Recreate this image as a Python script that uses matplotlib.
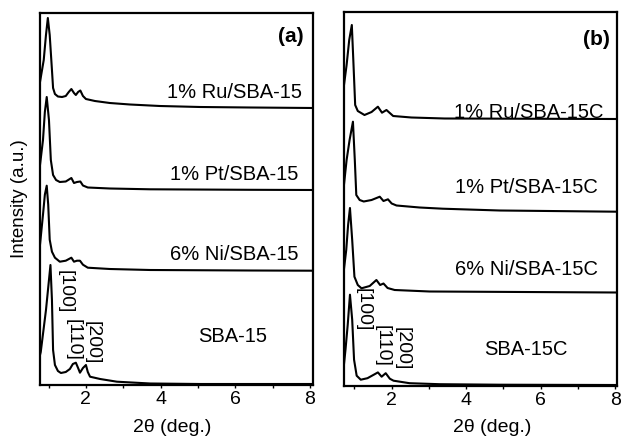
import matplotlib
matplotlib.use("Agg")
import matplotlib.pyplot as plt
from matplotlib.ticker import MultipleLocator, NullLocator

plt.rcParams['font.family'] = ['Liberation Sans', 'DejaVu Sans']

# ---------------- data (2theta in degrees, intensity in a.u.) ----------------
# Panel (a)
a_ru_x = [0.77, 0.87, 0.93, 0.98, 1.03, 1.09, 1.12, 1.17, 1.25, 1.36, 1.46, 1.54, 1.61, 1.68, 1.73,
          1.79, 1.85, 1.92, 2.00, 2.24, 2.64, 3.18, 3.98, 5.06, 6.40, 8.09]
a_ru_y = [26, 48, 73, 90, 73, 38, 20, 14, 11.5, 11, 12, 16, 19, 15, 13,
          16, 17.5, 12, 9, 7, 5, 3.5, 2, 1, 0.5, 0]

a_pt_x = [0.77, 0.85, 0.90, 0.95, 1.01, 1.06, 1.12, 1.20, 1.30, 1.46, 1.61, 1.68, 1.76, 1.85,
          1.92, 2.05, 2.64, 3.72, 6.40, 8.09]
a_pt_y = [25, 50, 78, 93, 70, 30, 15, 10, 8, 8.5, 12, 7, 8, 8.5,
          4.5, 2.5, 1.5, 0.7, 0.2, 0]

a_ni_x = [0.77, 0.85, 0.90, 0.95, 0.99, 1.03, 1.09, 1.17, 1.30, 1.46, 1.61, 1.68, 1.76, 1.84,
          1.92, 2.05, 2.64, 3.72, 6.40, 8.09]
a_ni_y = [26, 56, 76, 85, 66, 31, 19, 13, 9, 10, 13, 9, 10, 10,
          6, 3, 1.7, 0.7, 0.2, 0]

a_sba_x = [0.77, 0.79, 0.93, 1.05, 1.09, 1.12, 1.17, 1.25, 1.33, 1.46, 1.57, 1.65, 1.73, 1.79,
           1.84, 1.92, 2.00, 2.05, 2.11, 2.38, 2.83, 3.72, 5.06, 8.09]
a_sba_y = [30, 33, 75, 120, 85, 35, 20, 14, 12, 13, 16, 21, 22.3, 17,
           12.3, 17, 20, 13, 8.3, 6, 3.3, 1.5, 1, 1]

# Panel (b)
b_ru_x = [0.72, 0.79, 0.86, 0.93, 0.97, 1.02, 1.09, 1.27, 1.46, 1.63, 1.74, 1.86, 2.04, 2.53,
          3.42, 8.05]
b_ru_y = [34, 54, 79, 94, 59, 14, 8, 4, 7, 12.3, 6.3, 9, 3, 1.5,
          0.5, 0]

b_pt_x = [0.71, 0.79, 0.87, 0.96, 1.01, 1.05, 1.14, 1.25, 1.46, 1.68, 1.78, 1.90, 2.00, 2.13,
          2.75, 3.37, 4.90, 8.05]
b_pt_y = [23.7, 51.7, 71.7, 90, 51.7, 16.7, 11.7, 10.2, 11.7, 15, 10.7, 12.4, 8.2, 6.2,
          4.2, 3, 1.2, 0]

b_ni_x = [0.71, 0.78, 0.83, 0.88, 0.94, 1.00, 1.09, 1.19, 1.41, 1.59, 1.69, 1.78, 1.89, 2.08,
          3.02, 8.05]
b_ni_y = [20.5, 42.5, 67.5, 84.5, 52.5, 15.8, 7.5, 4.2, 6.5, 12.5, 7.5, 9, 4.5, 2.5,
          1, 0]

b_sba_x = [0.71, 0.76, 0.82, 0.88, 0.94, 0.99, 1.06, 1.17, 1.35, 1.52, 1.63, 1.73, 1.84, 1.95,
           2.05, 2.48, 3.29, 4.90, 8.05]
b_sba_y = [18, 36, 61, 91, 66, 26, 10, 6, 7.5, 11, 13.3, 9, 12.5, 7,
           5, 2.5, 1.5, 1, 0.7]

labels_a = ["1% Ru/SBA-15", "1% Pt/SBA-15", "6% Ni/SBA-15", "SBA-15"]
labels_b = ["1% Ru/SBA-15C", "1% Pt/SBA-15C", "6% Ni/SBA-15C", "SBA-15C"]
offsets_a = [277, 195, 114.3, 0]
offsets_b = [266.7, 174, 93.2, 0]
peak_labels = ["[100]", "[110]", "[200]"]
xticks = [2, 4, 6, 8]

# ---------------- figure ----------------
W, H = 622, 437
fig = plt.figure(figsize=(W / 100, H / 100), dpi=100)


def ax_rect(l, t, r, b):
    return [l / W, 1 - b / H, (r - l) / W, (b - t) / H]


def fpos(x, y):
    return x / W, 1 - y / H


ax_a = fig.add_axes(ax_rect(40, 12.5, 313, 385))
ax_b = fig.add_axes(ax_rect(344, 11.5, 617, 385.7))

curves_a = [(a_ru_x, a_ru_y), (a_pt_x, a_pt_y), (a_ni_x, a_ni_y), (a_sba_x, a_sba_y)]
curves_b = [(b_ru_x, b_ru_y), (b_pt_x, b_pt_y), (b_ni_x, b_ni_y), (b_sba_x, b_sba_y)]

for ax, curves, offs, xl, yl in [(ax_a, curves_a, offsets_a, (0.77, 8.08), 372.5),
                                 (ax_b, curves_b, offsets_b, (0.72, 8.05), 374.2)]:
    for (xs, ys), off in zip(curves, offs):
        ax.plot(xs, [v + off for v in ys], color='black', lw=1.5,
                solid_joinstyle='round', solid_capstyle='round')
    ax.set_xlim(*xl)
    ax.set_ylim(0, yl)
    ax.set_xticks(xticks)
    ax.xaxis.set_minor_locator(MultipleLocator(1))
    ax.yaxis.set_major_locator(NullLocator())
    ax.tick_params(axis='x', which='both', direction='out', length=2.5, width=1,
                   labelsize=14, pad=2)
    for sp in ax.spines.values():
        sp.set_linewidth(1.6)

# curve labels
fs = 14.5
fig.text(*fpos(302, 93), labels_a[0], ha='right', va='center', fontsize=fs)
fig.text(*fpos(298, 175), labels_a[1], ha='right', va='center', fontsize=fs)
fig.text(*fpos(298, 254.5), labels_a[2], ha='right', va='center', fontsize=fs)
fig.text(*fpos(233, 336), labels_a[3], ha='center', va='center', fontsize=fs)

fig.text(*fpos(603, 112), labels_b[0], ha='right', va='center', fontsize=fs)
fig.text(*fpos(598, 187.5), labels_b[1], ha='right', va='center', fontsize=fs)
fig.text(*fpos(598, 269.5), labels_b[2], ha='right', va='center', fontsize=fs)
fig.text(*fpos(525.5, 349.5), labels_b[3], ha='center', va='center', fontsize=fs)

# panel letters
fig.text(*fpos(290.5, 36), "(a)", ha='center', va='center', fontsize=15, fontweight='bold')
fig.text(*fpos(596.5, 39.5), "(b)", ha='center', va='center', fontsize=15, fontweight='bold')

# Miller indices
pfs = 14
for (x, y), t in zip([(65, 292), (73, 340), (92, 343)], peak_labels):
    fig.text(*fpos(x, y), t, ha='center', va='center', rotation=270, fontsize=pfs)
for (x, y), t in zip([(363, 310), (382, 346), (402, 349)], peak_labels):
    fig.text(*fpos(x, y), t, ha='center', va='center', rotation=270, fontsize=pfs)

# axis labels
fig.text(*fpos(172, 428), "2θ (deg.)", ha='center', va='center', fontsize=14)
fig.text(*fpos(492, 428), "2θ (deg.)", ha='center', va='center', fontsize=14)
fig.text(*fpos(20, 199), "Intensity (a.u.)", ha='center', va='center', rotation=90, fontsize=13.5)

fig.savefig("out.png", dpi=100)
